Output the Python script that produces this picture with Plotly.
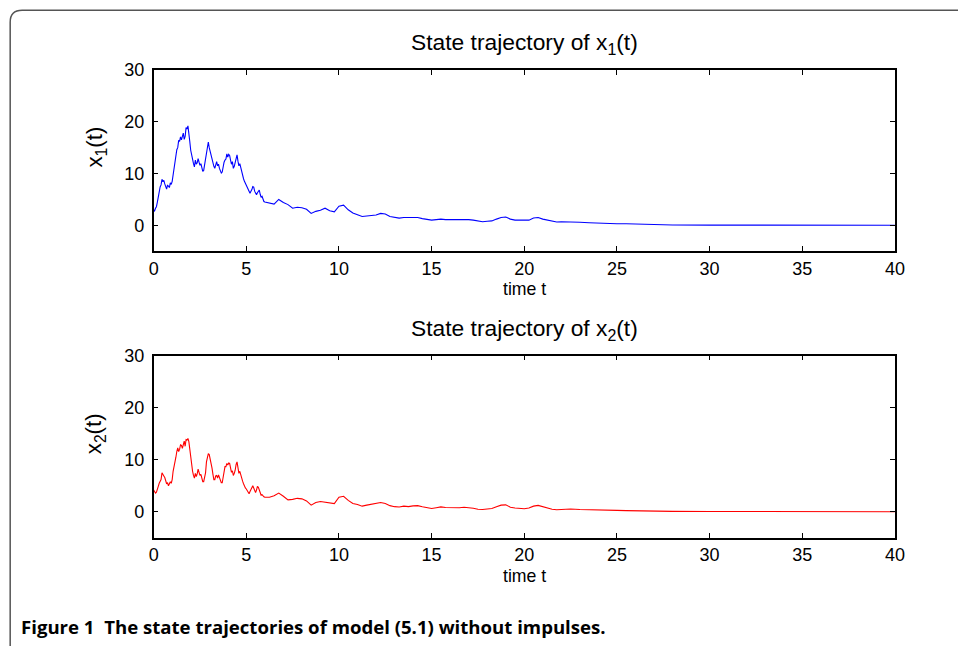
import plotly.graph_objects as go

# ---- data ----
t_dense = [round(0.05 * i, 2) for i in range(121)]
t_sparse = [6.25, 6.5, 6.75, 7.0, 7.25, 7.5, 7.75, 8.0, 8.25, 8.5, 8.75, 9.0, 9.25, 9.5, 9.75,
            10.0, 10.25, 10.5, 10.75, 11.0, 11.25, 11.5, 11.75, 12.0, 12.25, 12.5, 12.75,
            13.0, 13.25, 13.5, 13.75, 14.0, 14.25, 14.5, 14.75, 15.0, 15.25, 15.5, 15.75,
            16.0, 16.25, 16.5, 16.75, 17.0, 17.25, 17.5, 17.75, 18.0, 18.25, 18.5, 18.75,
            19.0, 19.25, 19.5, 19.75, 20.0, 20.25, 20.5, 20.75, 21.0, 21.25, 21.5, 21.75,
            22.0, 22.5, 23.0, 23.5, 24.0, 24.5, 25.0, 25.5, 26.0, 26.5, 27.0, 28.0, 30.0,
            32.0, 35.0, 40.0]
time_t = t_dense + t_sparse

x1_dense = [3.0, 2.8, 3.3, 3.6, 4.5, 5.6, 6.2, 7.4, 7.8, 8.9,
            8.4, 8.7, 8.0, 7.2, 7.0, 7.8, 7.6, 7.3, 8.2, 7.9,
            8.5, 9.8, 11.0, 12.6, 13.5, 14.6, 15.0, 16.4, 16.2, 17.1,
            16.5, 17.4, 17.8, 16.6, 17.2, 18.9, 18.6, 19.2, 18.0, 16.2,
            14.5, 13.2, 12.8, 11.9, 11.3, 12.6, 11.8, 12.1, 12.9, 12.2,
            11.6, 11.9, 11.0, 10.4, 10.6, 11.8, 13.0, 14.6, 15.6, 16.1,
            15.0, 14.2, 13.5, 12.7, 12.2, 11.4, 11.0, 12.0, 12.3, 11.5,
            11.8, 11.0, 10.5, 10.1, 10.3, 11.4, 12.2, 12.6, 12.8, 13.8,
            13.2, 13.7, 13.5, 12.6, 11.8, 12.3, 11.0, 11.4, 12.0, 12.9,
            13.6, 12.4, 11.5, 11.9, 11.0, 10.1, 9.3, 9.0, 8.5, 8.1,
            7.8, 7.5, 7.1, 6.5, 6.2, 6.6, 6.9, 7.5, 7.4, 6.6,
            6.1, 5.9, 6.3, 6.5, 6.8, 6.0, 5.4, 5.6, 5.0, 4.6, 4.5]
x1_sparse = [4.3, 4.1, 5.0, 4.4, 4.0, 3.3, 3.5, 3.4, 3.1, 2.3, 2.7, 2.9, 3.3, 2.8, 2.6,
             3.7, 3.9, 3.0, 2.4, 2.1, 1.7, 1.8, 1.9, 2.0, 2.3, 2.2, 1.7,
             1.5, 1.4, 1.5, 1.5, 1.4, 1.5, 1.3, 1.2, 1.0, 1.1, 1.2, 1.1,
             1.15, 1.1, 1.1, 1.15, 1.1, 1.0, 0.8, 0.7, 0.8, 0.85, 1.2, 1.5,
             1.6, 1.2, 1.0, 1.0, 0.9, 1.0, 1.4, 1.5, 1.2, 1.0, 0.85, 0.65,
             0.7, 0.7, 0.6, 0.5, 0.4, 0.3, 0.3, 0.3, 0.25, 0.15, 0.1, 0.06, 0.04,
             0.03, 0.02, 0.01]
x1_values = x1_dense + x1_sparse

x2_dense = [4.2, 3.9, 3.6, 3.8, 4.2, 4.9, 5.5, 5.8, 6.2, 7.5,
            7.3, 6.9, 6.6, 5.9, 5.4, 5.6, 5.0, 5.4, 5.8, 5.5,
            6.2, 7.8, 9.0, 10.1, 10.5, 11.6, 12.3, 11.6, 12.0, 12.9,
            12.8, 12.2, 13.2, 13.6, 12.6, 13.9, 13.8, 14.1, 13.5, 11.9,
            10.0, 8.9, 7.8, 7.0, 6.5, 7.4, 6.8, 7.3, 8.2, 7.6,
            7.0, 7.2, 6.2, 5.8, 5.8, 6.4, 7.5, 9.6, 10.6, 11.2,
            11.0, 10.2, 9.6, 8.4, 7.2, 6.2, 6.2, 6.9, 7.0, 6.5,
            7.1, 6.5, 5.9, 5.6, 5.6, 6.8, 8.0, 8.7, 8.7, 9.3,
            9.0, 9.4, 9.3, 8.4, 7.6, 7.9, 7.0, 7.4, 8.0, 9.1,
            9.6, 8.5, 7.4, 7.8, 7.0, 6.5, 5.9, 5.4, 4.8, 4.6,
            4.4, 4.0, 3.7, 3.5, 3.9, 4.4, 4.8, 5.0, 4.6, 4.1,
            3.7, 4.2, 4.9, 4.7, 4.2, 3.7, 3.2, 3.3, 3.0, 2.9, 2.8]
x2_sparse = [2.8, 3.1, 3.6, 3.0, 2.3, 2.4, 2.6, 2.5, 2.1, 1.3, 1.8, 2.0, 1.9, 1.7, 1.6,
             2.8, 3.0, 2.2, 1.6, 1.4, 1.1, 1.3, 1.5, 1.6, 1.8, 1.6, 1.2,
             1.0, 0.95, 1.1, 1.0, 1.15, 1.2, 1.0, 0.8, 0.65, 0.8, 0.95, 0.85,
             0.8, 0.85, 0.8, 0.9, 0.85, 0.7, 0.5, 0.45, 0.55, 0.65, 1.0, 1.3,
             1.35, 0.9, 0.75, 0.7, 0.6, 0.75, 1.1, 1.25, 0.95, 0.7, 0.5, 0.4,
             0.45, 0.55, 0.45, 0.38, 0.35, 0.32, 0.28, 0.25, 0.2, 0.15, 0.12, 0.1, 0.08,
             0.06, 0.05, 0.03]
x2_values = x2_dense + x2_sparse

x_ticks = [0, 5, 10, 15, 20, 25, 30, 35, 40]
y_ticks = [0, 10, 20, 30]

W, H = 958, 646
FONT = "Liberation Sans, Arial, sans-serif"

# the photographed page comes out slightly scaled/offset; map reference pixels to layout pixels
SX, OX = 0.988, 2.8
SY, OY = 0.989, 7.7
def px(x):
    return (x - OX) / SX / W
def py(y):
    return 1 - (y - OY) / SY / H

fig = go.Figure()
fig.add_trace(go.Scatter(x=time_t, y=x1_values, mode="lines",
                         line=dict(color="#0000ff", width=1.1), xaxis="x", yaxis="y",
                         showlegend=False))
fig.add_trace(go.Scatter(x=time_t, y=x2_values, mode="lines",
                         line=dict(color="#ff0000", width=1.1), xaxis="x2", yaxis="y2",
                         showlegend=False))

xd = [px(152), px(896)]
axis_common = dict(showline=True, linecolor="black", linewidth=1.5, mirror="allticks",
                   ticks="inside", ticklen=5, tickcolor="black", showgrid=False,
                   zeroline=False, tickfont=dict(family=FONT, size=18, color="black"))

fig.update_layout(
    width=W, height=H,
    margin=dict(l=0, r=0, t=0, b=0),
    paper_bgcolor="white", plot_bgcolor="white",
    xaxis=dict(domain=xd, range=[0, 40], tickvals=x_ticks, anchor="y", **axis_common),
    yaxis=dict(domain=[py(250), py(68)], range=[-5, 30], tickvals=y_ticks,
               anchor="x", ticklabelstandoff=4, **axis_common),
    xaxis2=dict(domain=xd, range=[0, 40], tickvals=x_ticks, anchor="y2", **axis_common),
    yaxis2=dict(domain=[py(538), py(355)], range=[-5, 30], tickvals=y_ticks,
                anchor="x2", ticklabelstandoff=4, **axis_common),
)

ann = []
def txt(x, y, s, size, angle=0, xanchor="center", family=FONT):
    ann.append(dict(x=px(x), y=py(y), xref="paper", yref="paper", text=s,
                    showarrow=False, textangle=angle, xanchor=xanchor, yanchor="middle",
                    font=dict(family=family, size=size, color="black")))

txt(524, 41, "State trajectory of x<sub>1</sub>(t)", 22.8)
txt(524, 329, "State trajectory of x<sub>2</sub>(t)", 22.8)
txt(524, 288, "time t", 17.7)
txt(524, 576, "time t", 17.7)
txt(94, 145, "x<sub>1</sub>(t)", 22.3, angle=-90)
txt(94, 433, "x<sub>2</sub>(t)", 22.3, angle=-90)
txt(17, 627, "<b>Figure 1  The state trajectories of model (5.1) without impulses.</b>", 18.6,
    xanchor="left", family="Open Sans, sans-serif")
fig.update_layout(annotations=ann)

# rounded frame: left and top edges
rx, ry = 12 / SX / W, 12 / SY / H
fx, fy = px(8), py(8)
path = (f"M {fx},{-0.05} L {fx},{fy - ry} "
        f"Q {fx},{fy} {fx + rx},{fy} L 1.05,{fy}")
fig.add_shape(type="path", path=path, xref="paper", yref="paper",
              line=dict(color="#555555", width=1.5))

fig.write_html("out.html", config={"displayModeBar": False},
               post_script="document.body.style.margin='0px';document.body.style.overflow='hidden';")
